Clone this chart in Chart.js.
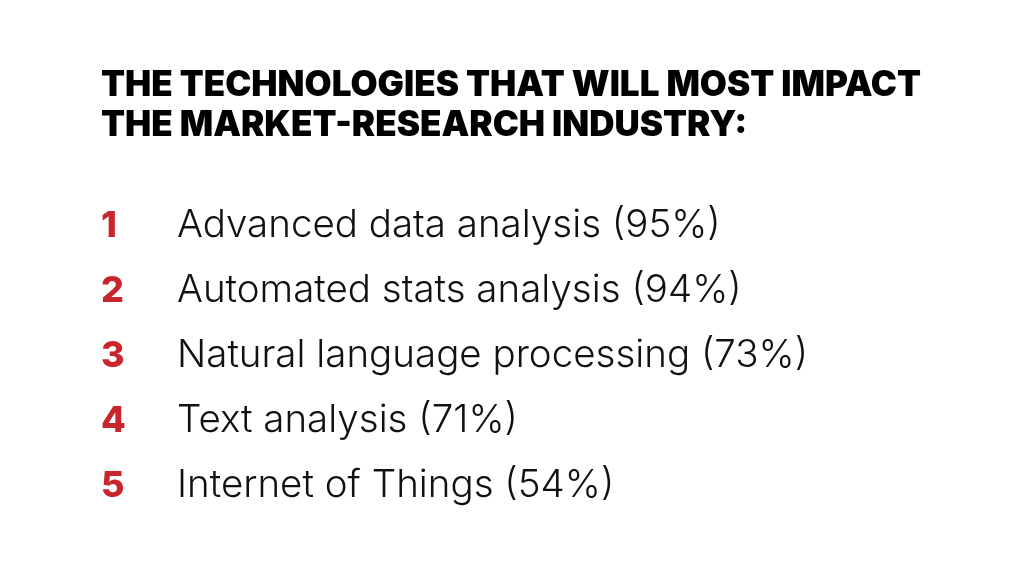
<!DOCTYPE html>
<html>
<head>
<meta charset="utf-8">
<style>
  html, body { margin: 0; padding: 0; background: #ffffff; }
  #wrap { width: 1024px; height: 582px; position: relative; }
</style>
<script src="https://cdn.jsdelivr.net/npm/chart.js@4.4.1/dist/chart.umd.min.js"></script>
</head>
<body>
<div id="wrap"><canvas id="c" width="1024" height="582"></canvas></div>
<script>
const titleLines = ["THE TECHNOLOGIES THAT WILL MOST IMPACT", "THE MARKET-RESEARCH INDUSTRY:"];
const ranks = ["1", "2", "3", "4", "5"];
const categories = ["Advanced data analysis", "Automated stats analysis", "Natural language processing", "Text analysis", "Internet of Things"];
const percentages = [95, 94, 73, 71, 54];

const RED = "#c8262c";
const BODY_FONT = "Inter, 'Noto Sans', sans-serif";

const listPlugin = {
  id: "listPlugin",
  afterDatasetsDraw(chart) {
    const ctx = chart.ctx;
    const yScale = chart.scales.y;
    const left = chart.chartArea.left;
    ctx.save();
    ctx.textBaseline = "alphabetic";
    ctx.textAlign = "left";
    categories.forEach((cat, i) => {
      const yc = yScale.getPixelForValue(i);
      const base = yc + 14;
      ctx.fillStyle = RED;
      ctx.font = "800 36px " + BODY_FONT;
      ctx.fillText(ranks[i], left, base);
      ctx.fillStyle = "#111111";
      ctx.font = "300 38.5px " + BODY_FONT;
      ctx.fillText(cat + " (" + percentages[i] + "%)", left + 76, base);
    });
    ctx.restore();
  }
};

new Chart(document.getElementById("c"), {
  type: "bar",
  data: {
    labels: categories,
    datasets: [{
      data: percentages,
      backgroundColor: "rgba(0,0,0,0)",
      borderWidth: 0
    }]
  },
  options: {
    indexAxis: "y",
    responsive: false,
    animation: false,
    events: [],
    layout: { padding: { left: 101, right: 60, top: 0, bottom: 67 } },
    scales: {
      x: { display: false, min: 0, max: 100 },
      y: { display: false }
    },
    plugins: {
      legend: { display: false },
      tooltip: { enabled: false },
      title: {
        display: true,
        text: titleLines,
        align: "start",
        color: "#000000",
        font: { family: BODY_FONT, size: 35, weight: "900", lineHeight: 1.143 },
        padding: { top: 65, bottom: 45 }
      }
    }
  },
  plugins: [listPlugin]
});
</script>
</body>
</html>
